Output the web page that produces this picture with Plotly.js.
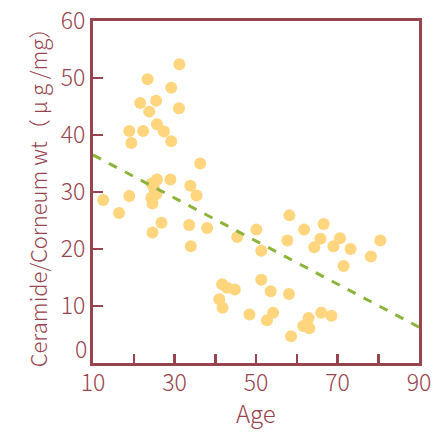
<!DOCTYPE html>
<html>
<head>
<meta charset="utf-8">
<script src="https://cdn.plot.ly/plotly-3.0.1.min.js"></script>
<style>html,body{margin:0;padding:0;background:#fff;}#chart{width:443px;height:432px;}</style>
</head>
<body>
<div id="chart"></div>
<script>
// Age (x) and Ceramide/Corneum wt (y)
const ages = [31.2, 23.4, 29.2, 21.6, 25.5, 23.8, 31.1, 25.7, 18.9, 22.3, 27.4, 19.4, 29.2, 36.3,
  25.7, 29.0, 33.9, 24.4, 24.9, 25.5, 24.3, 24.6, 12.5, 18.9, 35.4, 16.4, 26.8, 24.6, 33.6, 38.0, 34.0,
  45.4, 50.1, 51.3, 41.7, 42.9, 44.8, 41.0, 41.8, 48.4, 51.3,
  58.2, 66.6, 61.8, 57.7, 65.8, 70.6, 80.5, 64.3, 69.0, 73.2, 78.2, 71.5,
  53.6, 58.1, 54.2, 52.7, 62.9, 66.0, 68.5, 61.6, 63.1, 58.6];
const ceramide = [52.4, 49.8, 48.3, 45.6, 46.0, 44.1, 44.7, 41.9, 40.7, 40.7, 40.6, 38.6, 38.9, 35.0,
  32.2, 32.2, 31.1, 31.5, 30.8, 29.6, 29.0, 28.0, 28.6, 29.3, 29.4, 26.3, 24.6, 22.9, 24.2, 23.7, 20.5,
  22.1, 23.4, 19.7, 13.8, 13.2, 12.9, 11.2, 9.7, 8.5, 14.6,
  25.9, 24.4, 23.4, 21.5, 21.8, 21.9, 21.5, 20.3, 20.5, 20.0, 18.7, 17.0,
  12.6, 12.1, 8.8, 7.5, 7.9, 8.8, 8.3, 6.5, 6.1, 4.7];
// Regression line end points
const trendAges = [10, 90];
const trendValues = [36.5, 6.3];
// Tick labels
const xTickVals = [10, 20, 30, 40, 50, 60, 70, 80, 90];
const xTickText = ['10', '', '30', '', '50', '', '70', '', '90'];
const yTickVals = [10, 20, 30, 40, 50, 60];
const yTickText = ['10', '20', '30', '40', '50', '60'];

const axisColor = '#98444e';
const fontFam = '"Noto Sans CJK JP", "Noto Sans", sans-serif';

const data = [
  {x: ages, y: ceramide, type: 'scatter', mode: 'markers',
   marker: {color: '#ffd57e', size: 12}, hoverinfo: 'skip'},
  {x: trendAges, y: trendValues, type: 'scatter', mode: 'lines',
   line: {color: '#8db33a', width: 3, dash: '9px,9px'}, hoverinfo: 'skip'}
];

const layout = {
  width: 443, height: 432,
  margin: {l: 92.5, r: 24, t: 20.7, b: 68.7},
  paper_bgcolor: '#ffffff', plot_bgcolor: '#ffffff',
  showlegend: false,
  font: {family: fontFam, color: axisColor, size: 21, weight: 300},
  xaxis: {
    range: [10, 90], tickmode: 'array', tickvals: xTickVals, ticktext: xTickText,
    ticks: 'inside', ticklen: 9, tickwidth: 2.5, tickcolor: axisColor,
    showline: true, linecolor: axisColor, linewidth: 3, mirror: true,
    showgrid: false, zeroline: false, ticklabelstandoff: -3,
    tickfont: {family: fontFam, size: 23, color: axisColor, weight: 300}
  },
  yaxis: {
    range: [0, 60], tickmode: 'array', tickvals: yTickVals, ticktext: yTickText,
    ticks: 'inside', ticklen: 10, tickwidth: 2.5, tickcolor: axisColor,
    showline: true, linecolor: axisColor, linewidth: 3, mirror: true,
    showgrid: false, zeroline: false,
    tickfont: {family: fontFam, size: 23, color: axisColor, weight: 300},
    title: {text: 'Ceramide/Corneum wt（ μ g /mg）', font: {family: fontFam, size: 22, color: axisColor, weight: 300}, standoff: 8}
  },
  annotations: [
    {text: '0', xref: 'paper', yref: 'y', x: 0, y: 2.7, xanchor: 'right', yanchor: 'middle',
     xshift: -4, showarrow: false, font: {family: fontFam, size: 23, color: axisColor, weight: 300}},
    {text: 'Age', xref: 'paper', yref: 'paper', x: 0.5, y: -0.146, xanchor: 'center', yanchor: 'middle',
     showarrow: false, font: {family: fontFam, size: 24, color: axisColor, weight: 300}}
  ]
};

Plotly.newPlot('chart', data, layout, {displayModeBar: false, staticPlot: true});
</script>
</body>
</html>
